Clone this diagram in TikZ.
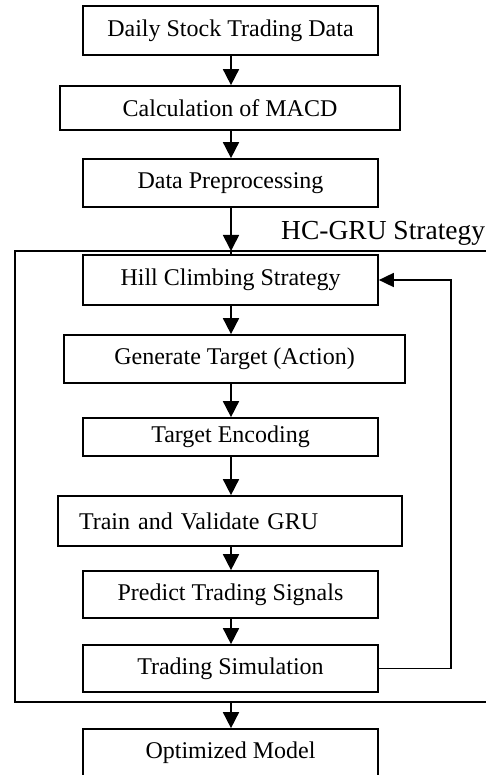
\documentclass[tikz,border=0pt]{standalone}
\usepackage{fontspec}
\setmainfont{Liberation Serif}
\usetikzlibrary{arrows.meta}
\begin{document}
\begin{tikzpicture}[x=1pt,y=-1pt,
  box/.style={draw, line width=1.7pt, inner sep=0pt, font=\fontsize{24}{28}\selectfont},
  arr/.style={line width=1.7pt, -{Triangle[length=16pt,width=16pt]}},
  grp/.style={draw, line width=1.7pt}]
\useasboundingbox (0,0) rectangle (486,775);
\clip (0,0) rectangle (486,775);
% nodes
\node[box, minimum width=295pt, minimum height=49pt] (b1) at (230.5,30.5) {Daily Stock Trading Data};
\node[box, minimum width=340pt, minimum height=44pt] (b2) at (230,108) {Calculation of MACD};
\node[box, minimum width=295pt, minimum height=48pt] (b3) at (230.5,183) {Data Preprocessing};
% group
\draw[grp] (15,251) rectangle (500,702);
\coordinate (gtop) at (231,251);
\coordinate (gbot) at (231,702);
\node[anchor=base west, inner sep=0pt, font=\fontsize{27.5}{30}\selectfont] (glabel) at (281,240) {HC-GRU Strategy};
\node[box, minimum width=295pt, minimum height=50pt] (b4) at (230.5,280) {Hill Climbing Strategy};
\node[box, minimum width=341pt, minimum height=48pt] (b5) at (234.5,359) {Generate Target (Action)};
\node[box, minimum width=295pt, minimum height=38pt] (b6) at (230.5,437) {Target Encoding};
\node[box, text width=302pt, align=left, inner xsep=21pt, minimum height=50pt] (b7) at (230,521) {Train and Validate GRU};
\node[box, minimum width=295pt, minimum height=47pt] (b8) at (230.5,594.5) {Predict Trading Signals};
\node[box, minimum width=295pt, minimum height=47pt] (b9) at (230.5,668.5) {Trading Simulation};
\node[box, minimum width=295pt, minimum height=48pt] (b10) at (230.5,753) {Optimized Model};
% arrows
\draw[arr] (b1.south -| 231,0) -- (b2.north -| 231,0);
\draw[arr] (b2.south -| 231,0) -- (b3.north -| 231,0);
\draw[arr] (b3.south -| 231,0) -- (gtop);
\draw[line width=1.7pt] (gtop) -- (b4.north -| 231,0);
\draw[arr] (b4.south -| 231,0) -- (b5.north -| 231,0);
\draw[arr] (b5.south -| 231,0) -- (b6.north -| 231,0);
\draw[arr] (b6.south -| 231,0) -- (b7.north -| 231,0);
\draw[arr] (b7.south -| 231,0) -- (b8.north -| 231,0);
\draw[arr] (b8.south -| 231,0) -- (b9.north -| 231,0);
\draw[arr] (gbot) -- (b10.north -| 231,0);
% feedback
\draw[line width=1.7pt, -{Triangle[length=15pt,width=14pt]}] (b9.east) -- (451,668.5) |- (b4.east);
\end{tikzpicture}
\end{document}
